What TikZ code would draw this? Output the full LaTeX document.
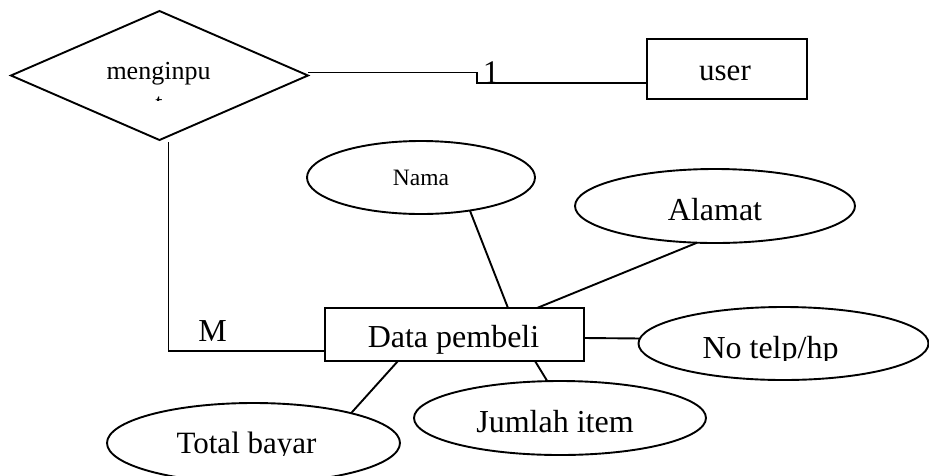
\documentclass[tikz,border=0pt]{standalone}
\usepackage{fontspec}
\setmainfont{Liberation Serif}
\usetikzlibrary{shapes.geometric}
\begin{document}
\begin{tikzpicture}[x=1pt, y=-1pt, line width=1.9pt,
  ent/.style={draw, rectangle, inner sep=0pt, outer sep=0pt},
  attr/.style={draw, ellipse, inner sep=0pt, outer sep=0pt},
  rel/.style={draw, diamond, inner sep=0pt, outer sep=0pt},
  lbl/.style={inner sep=0pt, outer sep=0pt, anchor=base},
  fs/.style={font=\fontsize{#1}{#1}\selectfont}]
\useasboundingbox (0,0) rectangle (929,475);

% relationship
\node[rel, minimum width=297pt, minimum height=129pt] (inp) at (159.5,75.5) {};
\node[lbl, fs=26] (inptxt) at (158.5,79) {menginpu};
\begin{scope}
  \clip (150,94) rectangle (170,100);
  \node[lbl, fs=26] (inpcut) at (159,111) {t};
\end{scope}

% entities
\node[ent, minimum width=160pt, minimum height=60pt] (user) at (727,69) {};
\node[lbl, fs=31] (usertxt) at (725,80) {user};
\node[ent, minimum width=259pt, minimum height=53pt] (dp) at (454.5,334.5) {};
\node[lbl, fs=32] (dptxt) at (453.5,347) {Data pembeli};

% attributes
\node[attr, minimum width=228pt, minimum height=73pt] (nama) at (421,177.5) {};
\node[lbl, fs=23.5] (namatxt) at (421,185) {Nama};
\node[attr, minimum width=280pt, minimum height=74pt] (alamat) at (715,206) {};
\node[lbl, fs=32] (alamattxt) at (715,220) {Alamat};
\node[attr, minimum width=290pt, minimum height=73pt] (notelp) at (783.5,343.5) {};
\begin{scope}
  \clip (680,320) rectangle (860,360);
  \node[lbl, fs=32] (notelptxt) at (770.5,358) {No telp/hp};
\end{scope}
\node[attr, minimum width=292pt, minimum height=74pt] (jumlah) at (560,418) {};
\node[lbl, fs=32] (jumlahtxt) at (555,432) {Jumlah item};
\node[attr, minimum width=293pt, minimum height=80pt] (total) at (253.5,443) {};
\begin{scope}
  \clip (160,420) rectangle (340,455);
  \node[lbl, fs=31] (totaltxt) at (246.5,453) {Total bayar};
\end{scope}

% cardinalities
\node[lbl, fs=33] (one) at (491,83) {1};
\node[lbl, fs=32] (many) at (212.5,341) {M};

% connectors
\draw ([yshift=3pt]inp.east) -- ++(169,0) |- ([yshift=-14pt]user.west);
\draw ([xshift=9pt,yshift=-2pt]inp.south) |- ([yshift=-43pt]dp.north west);
\draw (nama.-34) -- ([xshift=183pt]dp.north west);
\draw (alamat.244) -- ([xshift=212pt]dp.north west);
\draw ([yshift=-30pt]dp.north east) -- (notelp.178);
\draw ([xshift=73pt]dp.south west) -- (total.17);
\draw ([xshift=210pt]dp.south west) -- (jumlah.109);
\end{tikzpicture}
\end{document}
